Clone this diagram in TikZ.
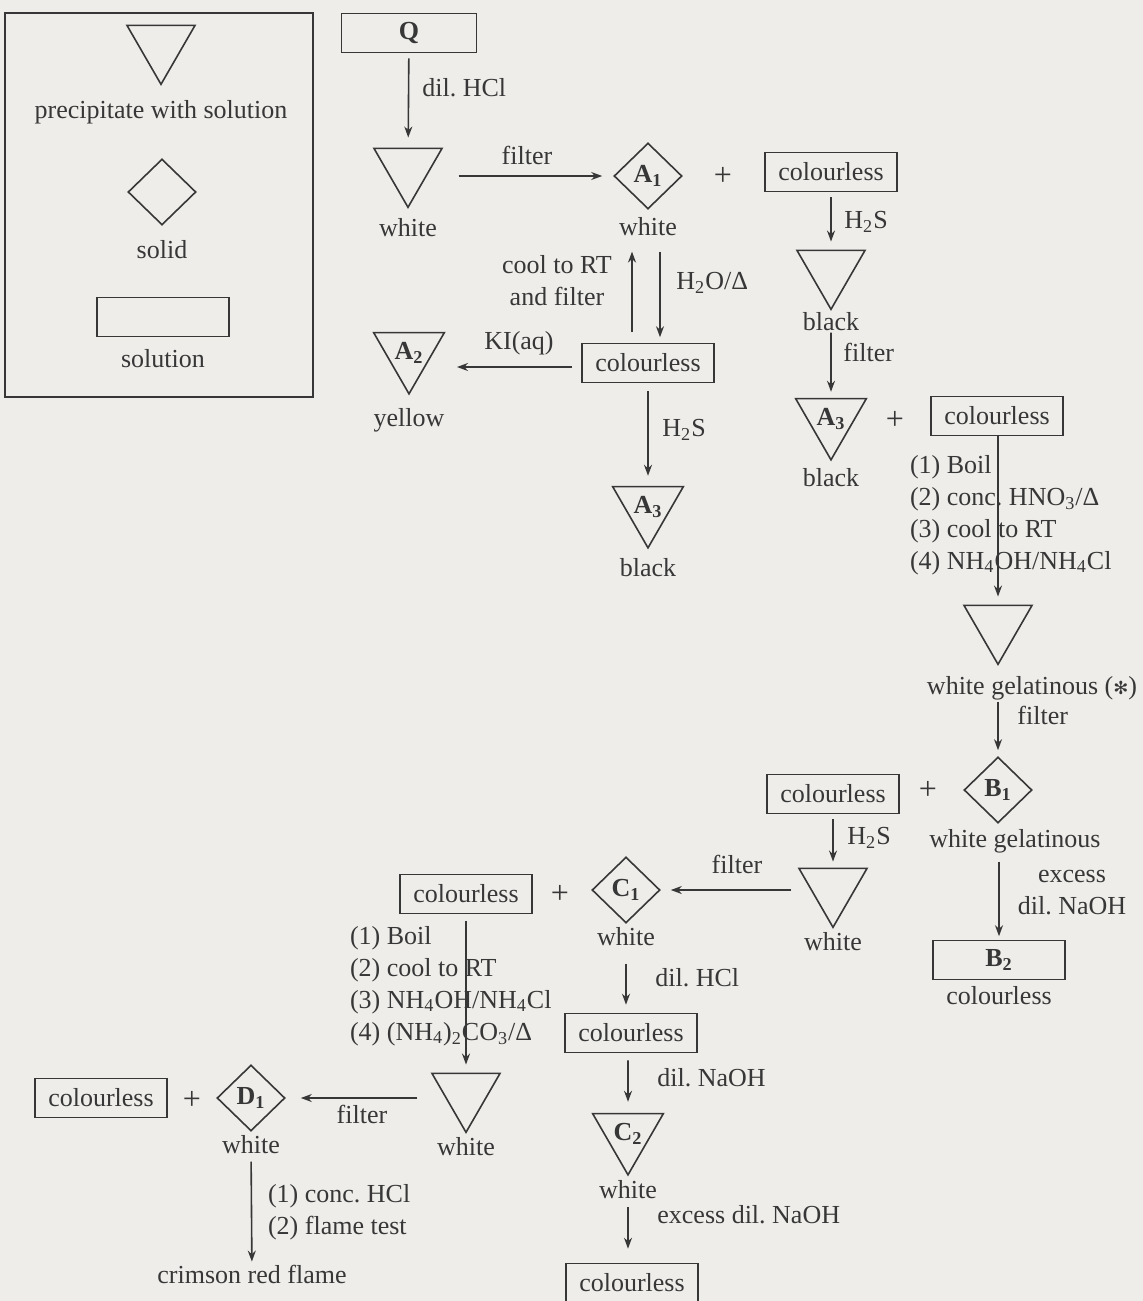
\documentclass[tikz,border=0pt]{standalone}
\usepackage{fontspec}
\setmainfont{Liberation Serif}
\newfontfamily\symfont{DejaVu Sans}
\usetikzlibrary{positioning, shapes.geometric, arrows.meta}
\definecolor{ink}{RGB}{55,55,55}
\definecolor{paper}{RGB}{238,237,234}

\begin{document}
\begin{tikzpicture}[
      x=0.5pt, y=-0.5pt,
      every node/.style = {text=ink, font=\fontsize{13}{16}\selectfont},
      sol/.style  = {draw=ink, line width=0.8pt, minimum width=66pt, minimum height=19.5pt, inner sep=0pt},
      ppt/.style  = {draw=ink, line width=0.8pt, regular polygon, regular polygon sides=3,
                     shape border rotate=180, minimum size=39.3pt, inner sep=0pt},
      sld/.style  = {draw=ink, line width=0.8pt, diamond, minimum width=34pt, minimum height=33pt, inner sep=0pt},
      lbl/.style  = {inner sep=1pt, text height=9pt, text depth=2.5pt},
      plus/.style = {font=\fontsize{16}{18}\selectfont},
      arr/.style  = {draw=ink, line width=0.8pt, -{Stealth[length=5.5pt, width=4pt]},
                     shorten <=2.5pt, shorten >=3pt}]
    \useasboundingbox (0,0) rectangle (1143,1301);
    \fill[paper] (0,0) rectangle (1143,1301);
    % key: the three kinds of box
    \draw[ink, line width=0.8pt] (5,13) rectangle (313,397);
    \node[ppt]                    (key-ppt)   at (161,45)  {};
    \node[lbl, below=6pt of key-ppt] (key-ppt-t) {precipitate with solution};
    \node[sld]                    (key-sld)   at (162,192) {};
    \node[lbl, below=6pt of key-sld] (key-sld-t) {solid};
    \node[sol]                    (key-sol)   at (163,317) {};
    \node[lbl, below=5pt of key-sol] (key-sol-t) {solution};
    % group A: Q, chlorides and sulfides
    \node[sol, minimum width=67.5pt] (q) at (409,33) {\textbf{Q}};
    \node[ppt]                 (w1)   at (408,168) {};
    \node[lbl, below=3.5pt of w1] (w1-t) {white};
    \node[sld]                 (a1)   at (648,176) {\textbf{A\textsubscript{1}}};
    \node[lbl, below=2.5pt of a1] (a1-t) {white};
    \node[plus]                (plus1) at (723,176) {+};
    \node[sol]                 (cl1)  at (831,172) {colourless};
    \node[ppt]                 (blk1) at (831,270) {};
    \node[lbl, below=-0.5pt of blk1] (blk1-t) {black};
    \node[ppt]                 (a3r)  at (831,419) {\textbf{A\textsubscript{3}}};
    \node[lbl, below=2.5pt of a3r] (a3r-t) {black};
    \node[plus]                (plus2) at (895,420) {+};
    \node[sol]                 (cl3)  at (997,416) {colourless};
    \node[sol]                 (cl2)  at (648,363) {colourless};
    \node[ppt]                 (a2)   at (409,353) {\textbf{A\textsubscript{2}}};
    \node[lbl, below=5.5pt of a2] (a2-t) {yellow};
    \node[ppt]                 (a3l)  at (648,507) {\textbf{A\textsubscript{3}}};
    \node[lbl, below=3.5pt of a3l] (a3l-t) {black};
    % group B
    \node[ppt]                 (wg)   at (998,625) {};
    \node[lbl, below=4pt of wg, xshift=17pt] (wg-t) {white gelatinous ({\symfont\small ✻})};
    \node[sld]                 (b1)   at (998,790) {\textbf{B\textsubscript{1}}};
    \node[lbl, below=1.5pt of b1, xshift=8.5pt] (b1-t) {white gelatinous};
    \node[plus]                (plus3) at (928,790) {+};
    \node[sol]                 (cl4)  at (833,794) {colourless};
    \node[ppt]                 (w3)   at (833,888) {};
    \node[lbl, below=0.5pt of w3] (w3-t) {white};
    \node[sol]                 (b2)   at (999,960) {\textbf{B\textsubscript{2}}};
    \node[lbl, below=2pt of b2] (b2-t) {colourless};
    % groups C and D
    \node[sol]                 (cl5)  at (466,894) {colourless};
    \node[plus]                (plus4) at (560,894) {+};
    \node[sld]                 (c1)   at (626,890) {\textbf{C\textsubscript{1}}};
    \node[lbl, below=0.5pt of c1] (c1-t) {white};
    \node[ppt]                 (w4)   at (466,1093) {};
    \node[lbl, below=0.5pt of w4] (w4-t) {white};
    \node[sol]                 (cl6)  at (631,1033) {colourless};
    \node[ppt]                 (c2)   at (628,1134) {\textbf{C\textsubscript{2}}};
    \node[lbl, below=1pt of c2] (c2-t) {white};
    \node[sol]                 (cl7)  at (632,1283) {colourless};
    \node[sol]                 (cl8)  at (101,1098) {colourless};
    \node[plus]                (plus5) at (192,1100) {+};
    \node[sld]                 (d1)   at (251,1098) {\textbf{D\textsubscript{1}}};
    \node[lbl, below=0.5pt of d1] (d1-t) {white};
    \node[lbl]                 (flame) at (252,1277) {crimson red flame};
    % reagents beside the arrows
    \node[lbl, anchor=west]    (t-dil1)    at (420,90)   {dil.\ HCl};
    \node[lbl]                 (t-filter1) at (527,158)  {filter};
    \node[lbl, anchor=west]    (t-h2s1)    at (842,222)  {H\textsubscript{2}S};
    \node[lbl, anchor=west]    (t-filter2) at (841,355)  {filter};
    \node[align=center]        (t-cool)    at (557,281)  {cool to RT\\and filter};
    \node[lbl, anchor=west]    (t-h2o)     at (674,283)  {H\textsubscript{2}O/Δ};
    \node[lbl]                 (t-ki)      at (519,343)  {KI(aq)};
    \node[lbl, anchor=west]    (t-h2s2)    at (660,430)  {H\textsubscript{2}S};
    \node[align=left, anchor=west] (t-steps1) at (903,515)
      {(1) Boil\\(2) conc.\ HNO\textsubscript{3}/Δ\\(3) cool to RT\\(4) NH\textsubscript{4}OH/NH\textsubscript{4}Cl};
    \node[lbl, anchor=west]    (t-filter3) at (1015,718) {filter};
    \node[lbl, anchor=west]    (t-h2s3)    at (845,838)  {H\textsubscript{2}S};
    \node[lbl]                 (t-filter4) at (737,867)  {filter};
    \node[align=center]        (t-naoh1)   at (1072,893) {excess\\dil.\ NaOH};
    \node[align=left, anchor=west] (t-steps2) at (343,986)
      {(1) Boil\\(2) cool to RT\\(3) NH\textsubscript{4}OH/NH\textsubscript{4}Cl\\(4) (NH\textsubscript{4})\textsubscript{2}CO\textsubscript{3}/Δ};
    \node[lbl]                 (t-filter5) at (362,1117) {filter};
    \node[lbl, anchor=west]    (t-dil2)    at (653,980)  {dil.\ HCl};
    \node[lbl, anchor=west]    (t-naoh2)   at (655,1080) {dil.\ NaOH};
    \node[lbl, anchor=west]    (t-naoh3)   at (655,1217) {excess dil.\ NaOH};
    \node[align=left, anchor=west] (t-flame) at (261,1212) {(1) conc.\ HCl\\(2) flame test};
    % arrows
    \draw[arr, shorten >=5pt] (q) -- (w1);
    \draw[arr, shorten <=13.5pt, shorten >=5.5pt] (w1.east |- a1.west) -- (a1.west);
    \draw[arr, shorten >=4pt] (cl1) -- (blk1);
    \draw[arr, shorten <=-2.5pt] (blk1-t) -- (a3r);
    \draw[arr, shorten <=5.25pt, shorten >=4.5pt] ([xshift=-8pt]cl2.north) -- ([xshift=-8pt]a1-t.south);
    \draw[arr, shorten <=4.5pt, shorten >=2.75pt] ([xshift=6pt]a1-t.south) -- ([xshift=6pt]cl2.north);
    \draw[arr, shorten <=4.5pt, shorten >=11.75pt] ([yshift=-2pt]cl2.west) -- ([yshift=-2pt]cl2.west -| a2.east);
    \draw[arr, shorten <=4pt, shorten >=5pt] (cl2) -- (a3l);
    \draw[arr, shorten <=0pt, shorten >=4pt] (cl3.south -| wg) -- (wg);
    \draw[arr, shorten <=0pt] (wg-t.south -| b1) -- (b1);
    \draw[arr] (cl4) -- (w3);
    \draw[arr, shorten <=9pt, shorten >=5pt] (w3.west |- c1.east) -- (c1.east);
    \draw[arr, shorten <=3.5pt, shorten >=1.75pt] (b1-t.south -| b2) -- (b2);
    \draw[arr, shorten <=3.25pt, shorten >=4pt] (cl5) -- (w4);
    \draw[arr, shorten <=12.5pt, shorten >=7.5pt] (w4.west |- d1.east) -- (d1.east);
    \draw[arr, shorten <=5.5pt, shorten >=4pt] (c1-t.south) -- (c1-t.south |- cl6.north);
    \draw[arr, shorten <=3.5pt, shorten >=5.5pt] (cl6.south -| c2) -- (c2);
    \draw[arr, shorten <=0.5pt, shorten >=7pt] (c2-t) -- (c2-t |- cl7.north);
    \draw[arr, shorten <=0.5pt, shorten >=0.75pt] (d1-t) -- (flame);
  \end{tikzpicture}
\end{document}
